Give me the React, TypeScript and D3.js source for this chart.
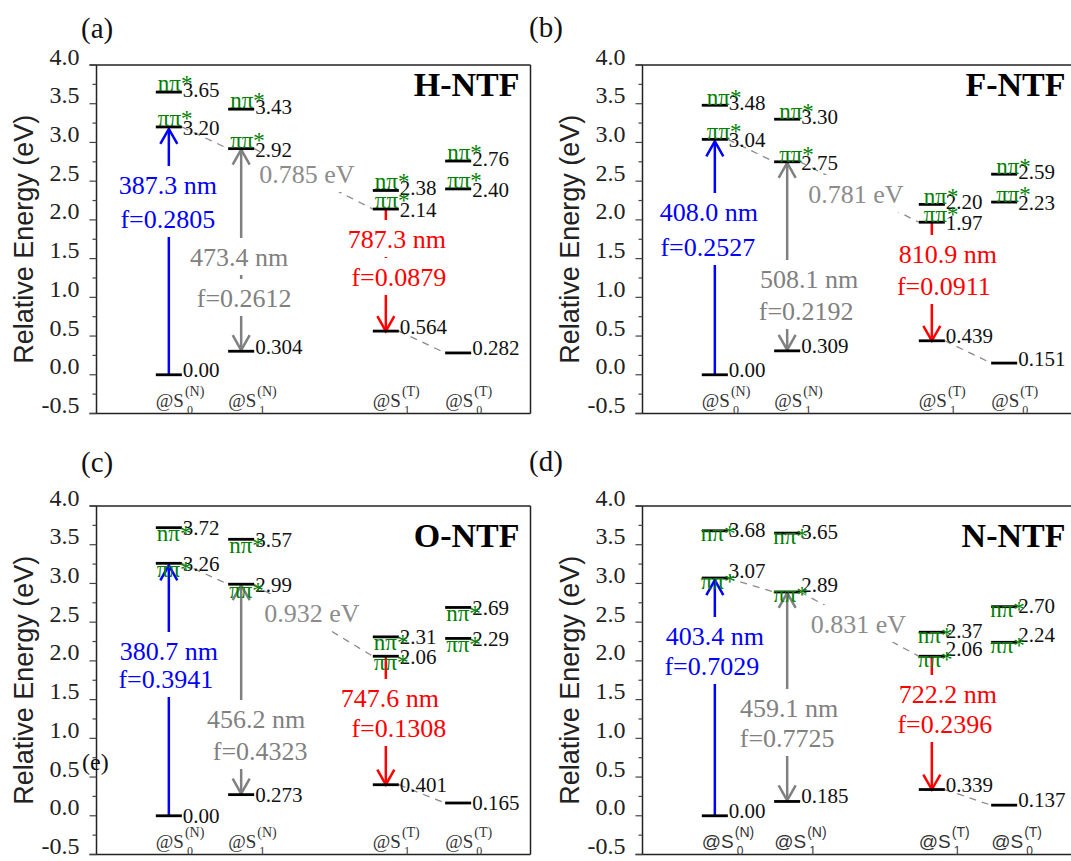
import React, { useEffect, useRef } from "react";
import * as d3 from "d3";

// ---- data -------------------------------------------------------------
const moleculeNames = ["H-NTF", "F-NTF", "O-NTF", "N-NTF"];
const panelTags = ["(a)", "(b)", "(c)", "(d)"];

// geometries along the x axis: @S0(N), @S1(N), @S1(T), @S0(T)
const geometryPos = [1, 2, 4, 5];
const geometrySub = ["0", "1", "1", "0"];
const geometrySup = ["(N)", "(N)", "(T)", "(T)"];

// excited-state energies (eV) at each geometry, per molecule
const npiLevels = [
  [3.65, 3.43, 2.38, 2.76],
  [3.48, 3.3, 2.2, 2.59],
  [3.72, 3.57, 2.31, 2.69],
  [3.68, 3.65, 2.37, 2.7],
];
const pipiLevels = [
  [3.2, 2.92, 2.14, 2.4],
  [3.04, 2.75, 1.97, 2.23],
  [3.26, 2.99, 2.06, 2.29],
  [3.07, 2.89, 2.06, 2.24],
];
const groundLevels = [
  [0.0, 0.304, 0.564, 0.282],
  [0.0, 0.309, 0.439, 0.151],
  [0.0, 0.273, 0.401, 0.165],
  [0.0, 0.185, 0.339, 0.137],
];

// transitions: absorption, normal-form emission, tautomer emission
const absWavelength = ["387.3", "408.0", "380.7", "403.4"];
const absOscillator = ["0.2805", "0.2527", "0.3941", "0.7029"];
const emNWavelength = ["473.4", "508.1", "456.2", "459.1"];
const emNOscillator = ["0.2612", "0.2192", "0.4323", "0.7725"];
const emTWavelength = ["787.3", "810.9", "747.6", "722.2"];
const emTOscillator = ["0.0879", "0.0911", "0.1308", "0.2396"];
const relaxGap = ["0.785", "0.781", "0.932", "0.831"];

const yTicks = [-0.5, 0, 0.5, 1, 1.5, 2, 2.5, 3, 3.5, 4];

// ---- layout -----------------------------------------------------------
const PLOT_W = 434;
const PLOT_H = 348.5;
const BAR_HALF = 0.18;
const SERIF = "'Liberation Serif', 'Times New Roman', serif";
const SANS = "'Liberation Sans', Arial, sans-serif";
const GREEN = "#008000";
const BLUE = "#0000ff";
const RED = "#ff0000";
const GRAY = "#808080";

type Layout = {
  axisX: number;
  top: number;
  tag: [number, number];
  titleDy: number;
  sansGeom: boolean;
  greenDx: number;
  greenDy: number;
  numDy: [number, number, number];
  blue: [number, number][];
  gray: [number, number][];
  red: [number, number][];
  gap: [number, number];
};

const layouts: Layout[] = [
  {
    axisX: 96.5, top: 65, tag: [81, 38], titleDy: 31, sansGeom: false,
    greenDx: 2, greenDy: -1, numDy: [5, 8, 2.5],
    blue: [[-1, 129], [-1, 163]], gray: [[-2, 201], [3, 242]],
    red: [[11, 183], [13, 221]], gap: [210.5, 118],
  },
  {
    axisX: 642.5, top: 65, tag: [529, 37], titleDy: 31, sansGeom: false,
    greenDx: 5, greenDy: 0, numDy: [5, 8, 2.5],
    blue: [[-6, 156], [-7, 191]], gray: [[22, 223], [19, 255]],
    red: [[16, 198], [12, 230]], gap: [213.5, 138],
  },
  {
    axisX: 96.5, top: 506, tag: [81, 472], titleDy: 41, sansGeom: false,
    greenDx: 1, greenDy: 13.5, numDy: [7.5, 7.5, 7.5],
    blue: [[0, 154], [-3, 182]], gray: [[15, 222], [19, 254]],
    red: [[4, 201], [13, 231]], gap: [215.5, 116],
  },
  {
    axisX: 642.5, top: 506, tag: [529, 471], titleDy: 41, sansGeom: true,
    greenDx: -1, greenDy: 10.5, numDy: [6, 0, 2],
    blue: [[0, 139], [-3, 169]], gray: [[2, 211], [0, 241]],
    red: [[16, 197], [13, 227]], gap: [216, 127],
  },
];

type G = d3.Selection<SVGGElement, unknown, null, undefined>;

function line(g: G, x1: number, y1: number, x2: number, y2: number, stroke: string, w: number) {
  return g
    .append("line")
    .attr("x1", x1)
    .attr("y1", y1)
    .attr("x2", x2)
    .attr("y2", y2)
    .attr("stroke", stroke)
    .attr("stroke-width", w);
}

// open "V" arrowhead, dir = -1 points up, +1 points down
function arrowHead(g: G, cx: number, tipY: number, dir: number, color: string) {
  const wy = tipY - dir * 15;
  g.append("path")
    .attr("d", `M${cx - 8.5},${wy} L${cx},${tipY} L${cx + 8.5},${wy}`)
    .attr("fill", "none")
    .attr("stroke", color)
    .attr("stroke-width", 2.5);
}

function drawPanel(root: d3.Selection<SVGSVGElement, unknown, null, undefined>, L: Layout, i: number) {
  const g = root.append("g") as G;
  const x = d3.scaleLinear().domain([0, 6]).range([L.axisX, L.axisX + PLOT_W]);
  const y = d3.scaleLinear().domain([-0.5, 4]).range([L.top + PLOT_H, L.top]);
  const xL = x(0);
  const xR = x(6);
  const yT = y(4);
  const yB = y(-0.5);

  // frame
  line(g, xL - 7, yT, xR, yT, "#222", 1.5);
  line(g, xL - 7, yB, xR, yB, "#222", 1.5);
  line(g, xL, yT, xL, yB, "#222", 1.5);
  line(g, xR, yT, xR, yB, "#222", 1.5);

  // y ticks and labels
  yTicks.forEach((v) => {
    line(g, xL - 7, y(v), xL, y(v), "#444", 1.2);
    g.append("text")
      .attr("x", xL - 17)
      .attr("y", y(v) - 0.5)
      .attr("text-anchor", "end")
      .attr("font-family", SERIF)
      .attr("font-size", 24)
      .attr("fill", "#222")
      .text(d3.format(".1f")(v).replace("−", "-"));
  });
  yTicks.slice(0, -1).forEach((v) => {
    line(g, xL - 4, y(v + 0.25), xL, y(v + 0.25), "#444", 1.2);
  });

  g.append("text")
    .attr("transform", `translate(${xL - 64},${(yT + yB) / 2}) rotate(-90)`)
    .attr("text-anchor", "middle")
    .attr("font-family", SANS)
    .attr("font-size", 27)
    .attr("fill", "#222")
    .text("Relative Energy (eV)");

  const npi = npiLevels[i];
  const pipi = pipiLevels[i];
  const ground = groundLevels[i];

  // dashed relaxation paths
  const paths: [number, number, number, number][] = [
    [0, pipi[0], 1, pipi[1]],
    [1, pipi[1], 2, pipi[2]],
    [2, ground[2], 3, ground[3]],
  ];
  paths.forEach(([a, ea, b, eb]) => {
    line(g, x(geometryPos[a] + BAR_HALF), y(ea), x(geometryPos[b] - BAR_HALF), y(eb), "#8a8a8a", 1.3)
      .attr("stroke-dasharray", "7 6");
  });

  // transition arrows
  const xa = x(geometryPos[0]);
  line(g, xa, y(ground[0]), xa, y(pipi[0]) + 2, BLUE, 2.5);
  arrowHead(g, xa, y(pipi[0]) + 2, -1, BLUE);

  const xn = x(geometryPos[1]);
  line(g, xn, y(ground[1]) - 1, xn, y(pipi[1]) + 1, GRAY, 2.5);
  arrowHead(g, xn, y(pipi[1]) + 1, -1, GRAY);
  arrowHead(g, xn, y(ground[1]) - 1, 1, GRAY);

  const xt = x(geometryPos[2]);
  line(g, xt, y(pipi[2]), xt, y(ground[2]), RED, 2.5);
  arrowHead(g, xt, y(ground[2]), 1, RED);

  // boxed labels
  const boxes = g.append("g") as G;
  const texts = g.append("g") as G;
  const boxed = (str: string, cx: number, base: number, color: string) => {
    const t = texts
      .append("text")
      .attr("x", cx)
      .attr("y", base)
      .attr("text-anchor", "middle")
      .attr("font-family", SERIF)
      .attr("font-size", 26)
      .attr("fill", color)
      .text(str);
    const w = (t.node() as SVGTextElement).getComputedTextLength();
    boxes
      .append("rect")
      .attr("x", cx - w / 2 - 3)
      .attr("y", base - 28)
      .attr("width", w + 6)
      .attr("height", 37)
      .attr("fill", "#fff");
  };
  boxed(`${absWavelength[i]} nm`, xa + L.blue[0][0], L.top + L.blue[0][1], BLUE);
  boxed(`f=${absOscillator[i]}`, xa + L.blue[1][0], L.top + L.blue[1][1], BLUE);
  boxed(`${emNWavelength[i]} nm`, xn + L.gray[0][0], L.top + L.gray[0][1], GRAY);
  boxed(`f=${emNOscillator[i]}`, xn + L.gray[1][0], L.top + L.gray[1][1], GRAY);
  boxed(`${emTWavelength[i]} nm`, xt + L.red[0][0], L.top + L.red[0][1], RED);
  boxed(`f=${emTOscillator[i]}`, xt + L.red[1][0], L.top + L.red[1][1], RED);
  boxed(`${relaxGap[i]} eV`, xL + L.gap[0], L.top + L.gap[1], "#8c8c8c");

  // energy levels
  const fmtHi = d3.format(".2f");
  const fmtLo = d3.format(".3f");
  geometryPos.forEach((p, c) => {
    const bl = x(p - BAR_HALF);
    const br = x(p + BAR_HALF);
    const levels: [number, string, string | null][] = [
      [npi[c], fmtHi(npi[c]), "nπ*"],
      [pipi[c], fmtHi(pipi[c]), "ππ*"],
      [ground[c], ground[c] === 0 ? "0.00" : fmtLo(ground[c]), null],
    ];
    levels.forEach(([e, lab, state], k) => {
      line(g, bl, y(e), br, y(e), "#000", 2.8);
      g.append("text")
        .attr("x", br + 1)
        .attr("y", y(e) + L.numDy[k])
        .attr("font-family", SERIF)
        .attr("font-size", 21)
        .attr("fill", "#111")
        .text(lab);
      if (state) {
        g.append("text")
          .attr("x", bl + L.greenDx)
          .attr("y", y(e) + L.greenDy)
          .attr("font-family", SERIF)
          .attr("font-size", 23)
          .attr("fill", GREEN)
          .text(state);
      }
    });

    // geometry label @S_n^(X)
    const fam = L.sansGeom ? SANS : SERIF;
    const lx = x(p) - 13;
    const ly = yB - 6.5;
    const t = g
      .append("text")
      .attr("x", lx)
      .attr("y", ly)
      .attr("font-family", fam)
      .attr("font-size", 19)
      .attr("fill", "#333");
    t.append("tspan").text("@S");
    const w = (t.node() as SVGTextElement).getComputedTextLength();
    t.append("tspan").attr("x", lx + w + 3).attr("y", ly + 7).attr("font-size", 12).text(geometrySub[c]);
    t.append("tspan").attr("x", lx + w + 1).attr("y", ly - 11).attr("font-size", 14).text(geometrySup[c]);
  });

  // molecule name and panel tag
  g.append("text")
    .attr("x", xL + 423)
    .attr("y", yT + L.titleDy)
    .attr("text-anchor", "end")
    .attr("font-family", SERIF)
    .attr("font-weight", "bold")
    .attr("font-size", 34)
    .attr("fill", "#000")
    .text(moleculeNames[i]);
  g.append("text")
    .attr("x", L.tag[0])
    .attr("y", L.tag[1])
    .attr("font-family", SERIF)
    .attr("font-size", 29)
    .attr("fill", "#111")
    .text(panelTags[i]);
}

export default function App() {
  const ref = useRef<SVGSVGElement>(null);
  useEffect(() => {
    if (!ref.current) return;
    const svg = d3.select(ref.current);
    svg.selectAll("*").remove();
    svg.append("rect").attr("width", 1071).attr("height", 861).attr("fill", "#fff");
    layouts.forEach((L, i) => drawPanel(svg, L, i));
    // stray panel mark sitting over the lower-left axis
    svg
      .append("text")
      .attr("x", 82)
      .attr("y", 770)
      .attr("font-family", SERIF)
      .attr("font-size", 24)
      .attr("fill", "#111")
      .text("(e)");
  }, []);
  return (
    <svg
      ref={ref}
      width={1071}
      height={861}
      style={{ position: "absolute", left: 0, top: 0 }}
    />
  );
}
